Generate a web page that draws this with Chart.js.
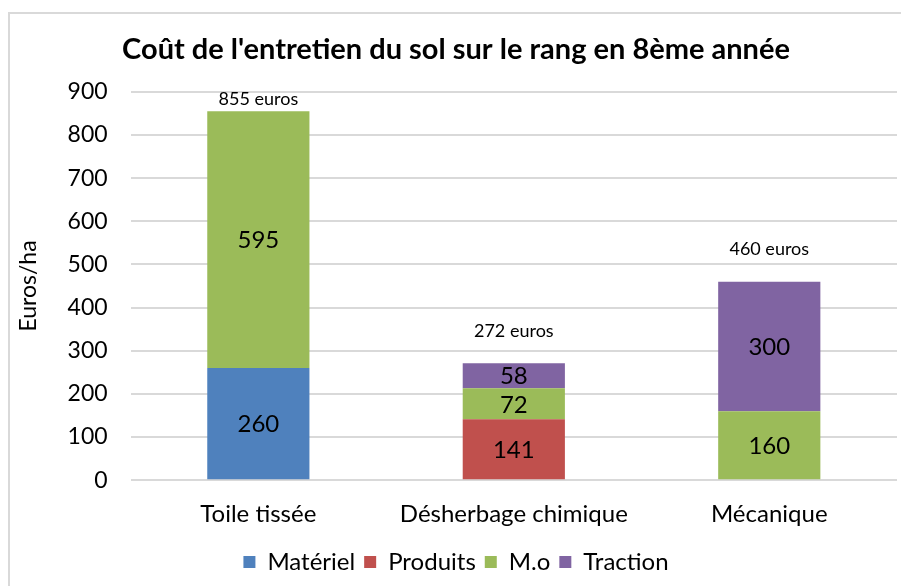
<!DOCTYPE html>
<html>
<head>
<meta charset="utf-8">
<script src="https://cdn.jsdelivr.net/npm/chart.js@4"></script>
<style>
  html, body { margin: 0; padding: 0; background: #fff; overflow: hidden; }
  #wrap { position: relative; width: 901px; height: 586px; }
  #frame { position: absolute; left: 8px; top: 12px; width: 910px; height: 600px;
           border-left: 2px solid #d9d9d9; border-top: 2px solid #d9d9d9; }
  #costChart { position: absolute; left: 0; top: 0; }
</style>
</head>
<body>
<div id="wrap">
  <div id="frame"></div>
  <canvas id="costChart" width="901" height="586"></canvas>
</div>
<script>
const categories = ['Toile tissée', 'Désherbage chimique', 'Mécanique'];
const materiel = [260, 0, 0];
const produits = [0, 141, 0];
const mainOeuvre = [595, 72, 160];
const traction = [0, 58, 300];
const totals = [855, 272, 460];
const totalLabels = ['855 euros', '272 euros', '460 euros'];

const FONT = 'Lato, "Open Sans", sans-serif';

// values inside the segments + totals above the stacks
const labelPlugin = {
    id: 'segLabels',
    afterDatasetsDraw(chart) {
        const ctx = chart.ctx;
        ctx.save();
        ctx.fillStyle = '#000';
        ctx.textAlign = 'center';
        ctx.textBaseline = 'middle';
        ctx.font = '24px ' + FONT;
        chart.data.datasets.forEach((ds, i) => {
            const meta = chart.getDatasetMeta(i);
            meta.data.forEach((bar, j) => {
                const v = ds.data[j];
                if (!v) return;
                ctx.fillText(String(v), bar.x, (bar.y + bar.base) / 2 + 1);
            });
        });
        const yScale = chart.scales.y;
        const firstMeta = chart.getDatasetMeta(0);
        ctx.font = '18px ' + FONT;
        totals.forEach((t, j) => {
            let y = yScale.getPixelForValue(t) - 32;
            if (y < chart.chartArea.top + 7) y = chart.chartArea.top + 7;
            ctx.fillText(totalLabels[j], firstMeta.data[j].x, y);
        });
        ctx.restore();
    }
};

const ctx = document.getElementById('costChart').getContext('2d');
new Chart(ctx, {
    type: 'bar',
    data: {
        labels: categories,
        datasets: [
            { label: 'Matériel', data: materiel, backgroundColor: '#4F81BD' },
            { label: 'Produits', data: produits, backgroundColor: '#C0504D' },
            { label: 'M.o', data: mainOeuvre, backgroundColor: '#9BBB59' },
            { label: 'Traction', data: traction, backgroundColor: '#8064A2' }
        ]
    },
    options: {
        responsive: false,
        animation: false,
        barPercentage: 0.4,
        categoryPercentage: 1,
        layout: { padding: { left: 15, right: 4, top: 6, bottom: 2 } },
        plugins: {
            title: {
                display: true,
                text: "Coût de l'entretien du sol sur le rang en 8ème année",
                color: '#000',
                font: { family: FONT, size: 29, weight: 'bold' },
                padding: { top: 26, bottom: 25 }
            },
            legend: {
                position: 'bottom',
                labels: {
                    color: '#000',
                    font: { family: FONT, size: 24 },
                    boxWidth: 12,
                    boxHeight: 12,
                    padding: 9
                }
            },
            tooltip: { enabled: false }
        },
        scales: {
            x: {
                stacked: true,
                grid: { display: false },
                border: { display: false },
                ticks: { color: '#000', font: { family: FONT, size: 24 }, padding: 12 }
            },
            y: {
                stacked: true,
                min: 0,
                max: 900,
                ticks: { stepSize: 100, color: '#000', font: { family: FONT, size: 23 }, padding: 23 },
                grid: { color: '#d9d9d9', lineWidth: 2, drawTicks: false },
                border: { display: false },
                title: {
                    display: true,
                    text: 'Euros/ha',
                    color: '#000',
                    font: { family: FONT, size: 23 },
                    padding: { top: 0, bottom: 2 }
                }
            }
        }
    },
    plugins: [labelPlugin]
});
</script>
</body>
</html>
